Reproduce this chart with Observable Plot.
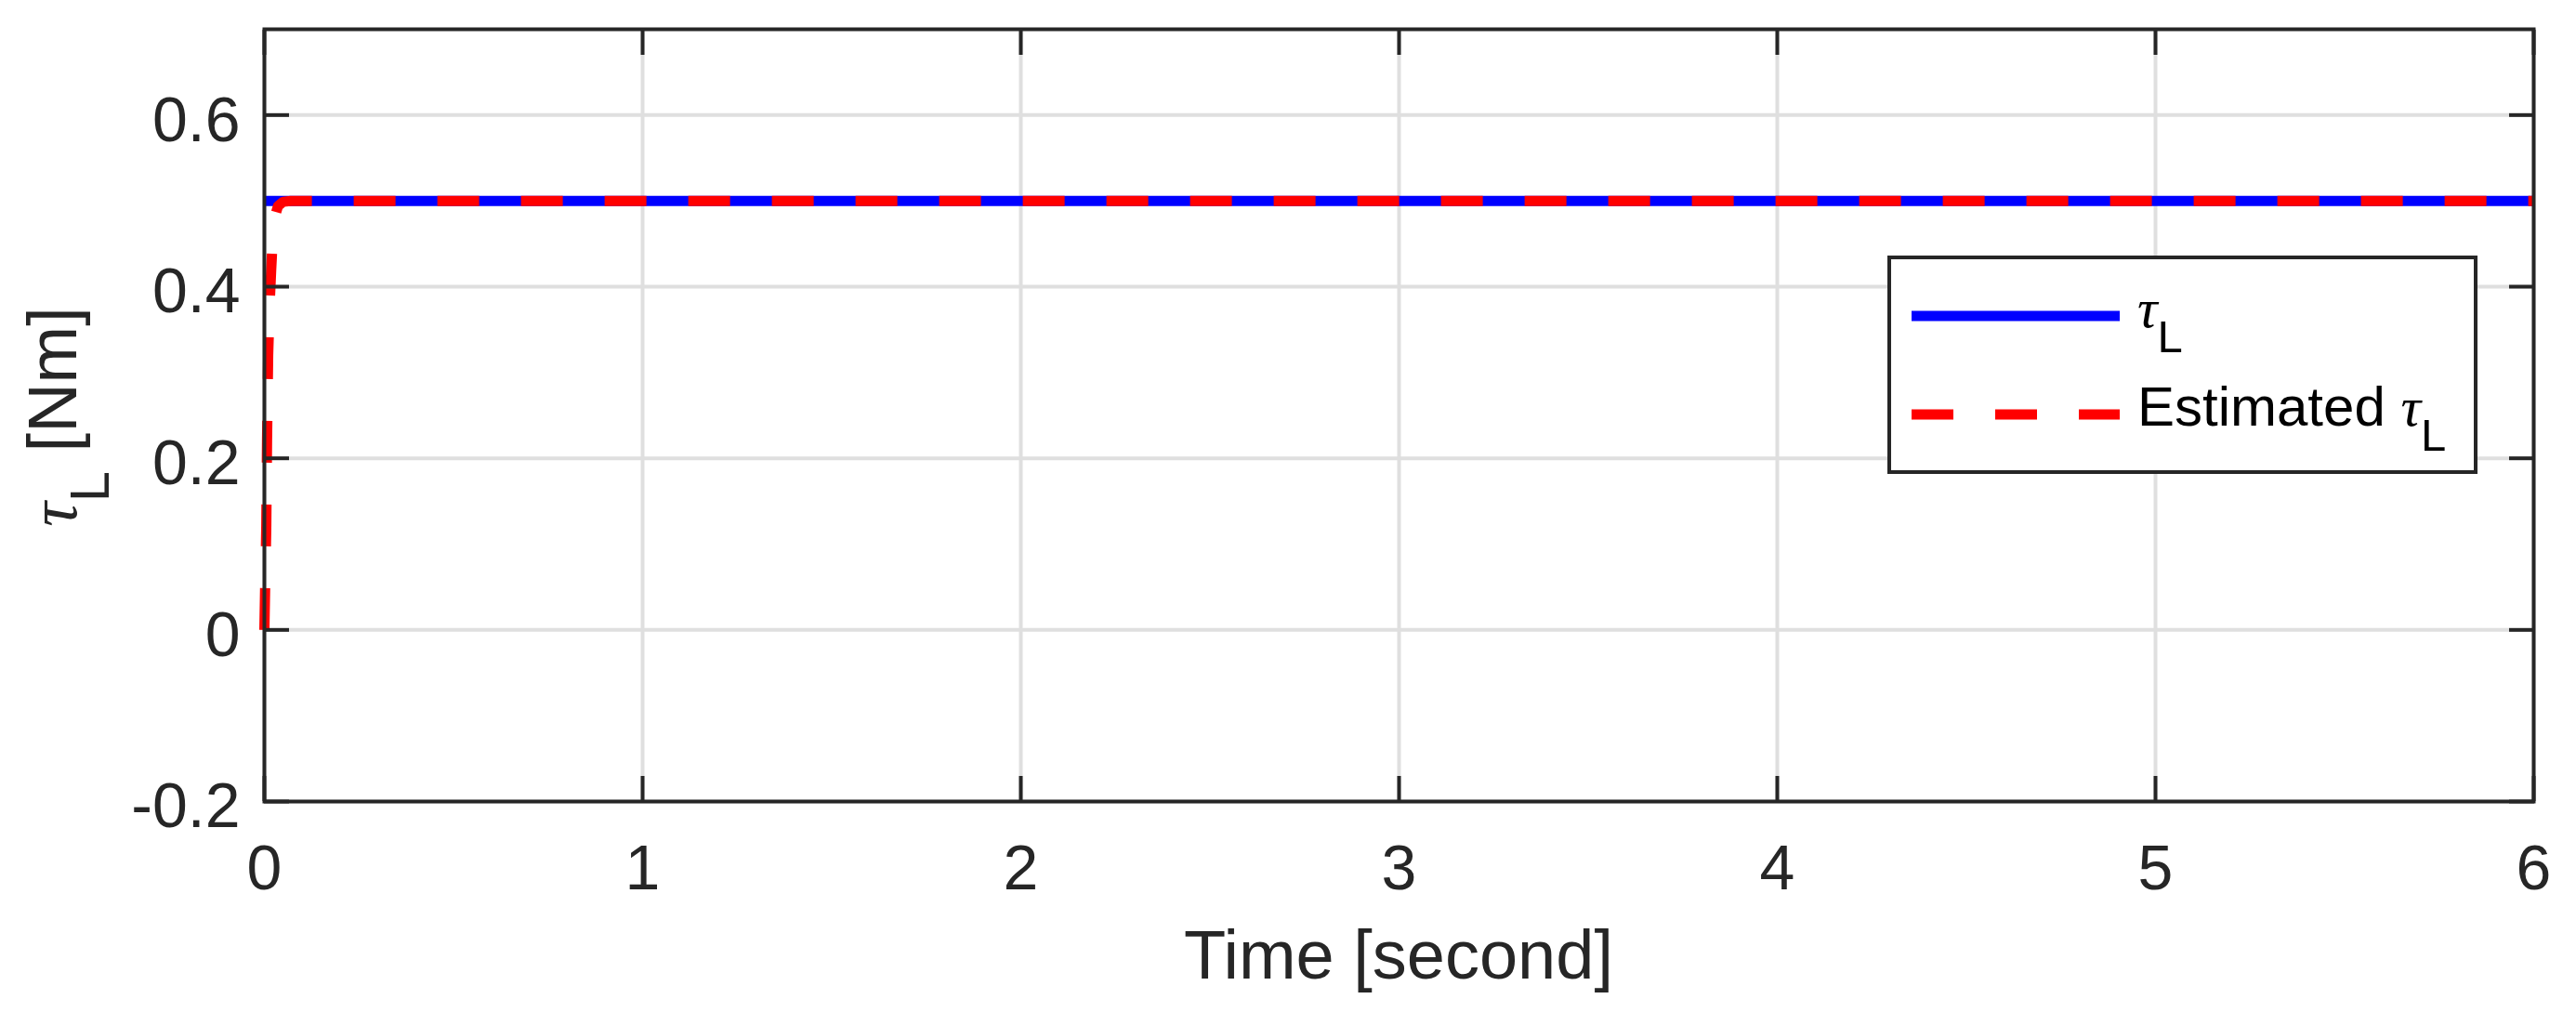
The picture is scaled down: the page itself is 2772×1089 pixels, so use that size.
<!DOCTYPE html>
<html><head><meta charset="utf-8">
<script src="https://cdn.jsdelivr.net/npm/d3@7"></script>
<script src="https://cdn.jsdelivr.net/npm/@observablehq/plot@0.6"></script>
<style>html,body{margin:0;padding:0;background:#fff;overflow:hidden}</style>
</head><body><div id="chart"></div>
<script>
// ---- data ----
const trueTime = [0, 6];
const trueTauL = [0.5, 0.5];
const estTime = [0, 0.002, 0.005, 0.007, 0.010, 0.014, 0.018, 0.022, 0.028, 0.036, 0.05, 0.07, 6];
const estTauL = [0, 0.05, 0.12, 0.22, 0.32, 0.38, 0.42, 0.455, 0.482, 0.494, 0.499, 0.5, 0.5];
const xTicks = [0, 1, 2, 3, 4, 5, 6];
const xTickLabels = ["0", "1", "2", "3", "4", "5", "6"];
const yTicks = [-0.2, 0, 0.2, 0.4, 0.6];
const yTickLabels = ["-0.2", "0", "0.2", "0.4", "0.6"];
const xDomain = [0, 6];
const yDomain = [-0.2, 0.7];
const xLabel = "Time [second]";
const yLabelUnit = " [Nm]";
const legendNames = ["", "Estimated "];

const trueData = trueTime.map((t, i) => ({t, v: trueTauL[i]}));
const estData = estTime.map((t, i) => ({t, v: estTauL[i]}));

const axisColor = "#262626";
const gridColor = "#dfdfdf";
const blue = "#0000ff", red = "#ff0000";
const font = "'Liberation Sans', Arial, Helvetica, sans-serif";
const greek = "'Liberation Serif', 'DejaVu Serif', serif";

const chart = Plot.plot({
  width: 2772, height: 1089,
  marginLeft: 284, marginRight: 46, marginTop: 31, marginBottom: 227,
  style: {fontFamily: font, fontSize: "68px", color: axisColor, background: "#fff", overflow: "visible"},
  x: {domain: xDomain},
  y: {domain: yDomain},
  marks: [
    Plot.gridX(xTicks, {stroke: gridColor, strokeOpacity: 1, strokeWidth: 4}),
    Plot.gridY(yTicks, {stroke: gridColor, strokeOpacity: 1, strokeWidth: 4}),
    Plot.line(trueData, {x: "t", y: "v", stroke: blue, strokeWidth: 11, strokeLinecap: "butt"}),
    Plot.line(estData, {x: "t", y: "v", stroke: red, strokeWidth: 11, strokeDasharray: "45,45",
      strokeLinecap: "butt", strokeLinejoin: "round"}),
    Plot.frame({stroke: axisColor, strokeWidth: 4}),
    // inward tick marks on all four sides
    Plot.axisX(xTicks, {anchor: "bottom", tickSize: -27, strokeWidth: 4, stroke: axisColor, fill: "none", label: null}),
    Plot.axisX(xTicks, {anchor: "top", tickSize: -27, strokeWidth: 4, stroke: axisColor, fill: "none", label: null}),
    Plot.axisY(yTicks, {anchor: "left", tickSize: -27, strokeWidth: 4, stroke: axisColor, fill: "none", label: null}),
    Plot.axisY(yTicks, {anchor: "right", tickSize: -27, strokeWidth: 4, stroke: axisColor, fill: "none", label: null}),
    // tick labels
    Plot.axisX(xTicks, {anchor: "bottom", tickSize: 0, tickPadding: 46, fill: axisColor, stroke: "none",
      fontSize: 68, label: null, tickFormat: d => xTickLabels[xTicks.indexOf(d)]}),
    Plot.axisY(yTicks, {anchor: "left", tickSize: 0, tickPadding: 26, fill: axisColor, stroke: "none",
      fontSize: 68, dy: 6, label: null, tickFormat: d => yTickLabels[yTicks.indexOf(d)]})
  ]
});
document.getElementById("chart").appendChild(chart);

const svg = d3.select(chart);
const xs = chart.scale("x"), ys = chart.scale("y");
const x0 = xs.apply(xDomain[0]), x1 = xs.apply(xDomain[1]);
const y0 = ys.apply(yDomain[0]), y1 = ys.apply(yDomain[1]);

// x label
svg.append("text")
  .attr("x", (x0 + x1) / 2).attr("y", 1053)
  .attr("text-anchor", "middle")
  .attr("font-family", font).attr("font-size", 74).attr("fill", axisColor)
  .text(xLabel);

// y label: τ_L [Nm]
const yl = svg.append("text")
  .attr("transform", `translate(82,${(y0 + y1) / 2 + 2}) rotate(-90)`)
  .attr("text-anchor", "middle")
  .attr("font-family", font).attr("font-size", 74).attr("fill", axisColor);
yl.append("tspan").attr("font-family", greek).attr("font-style", "italic").text("τ");
yl.append("tspan").attr("font-size", 60).attr("dy", 35).text("L");
yl.append("tspan").attr("dy", -35).text(yLabelUnit);

// legend
const lg = svg.append("g").attr("text-anchor", "start");
lg.append("rect").attr("x", 2033).attr("y", 277).attr("width", 631).attr("height", 231)
  .attr("fill", "#fff").attr("stroke", axisColor).attr("stroke-width", 4);
const rows = [
  {y: 340, color: blue, dash: null, name: legendNames[0]},
  {y: 446, color: red, dash: "45,45", name: legendNames[1]}
];
rows.forEach(r => {
  const ln = lg.append("line").attr("x1", 2057).attr("x2", 2281).attr("y1", r.y).attr("y2", r.y)
    .attr("stroke", r.color).attr("stroke-width", 11);
  if (r.dash) ln.attr("stroke-dasharray", r.dash);
  const t = lg.append("text").attr("x", 2300).attr("y", r.y + 12).attr("text-anchor", "start")
    .attr("font-family", font).attr("font-size", 60).attr("fill", "#000");
  if (r.name) t.append("tspan").text(r.name);
  t.append("tspan").attr("font-family", greek).attr("font-style", "italic").text("τ");
  t.append("tspan").attr("font-size", 49).attr("dy", 27).text("L");
});
</script>
</body></html>
